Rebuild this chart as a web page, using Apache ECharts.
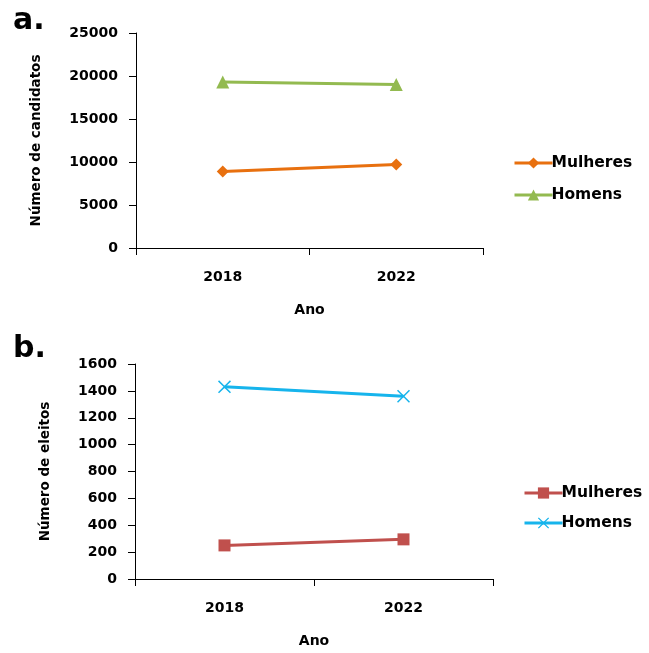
<!DOCTYPE html>
<html>
<head>
<meta charset="utf-8">
<script src="https://cdn.jsdelivr.net/npm/echarts@6/dist/echarts.min.js"></script>
<style>
  html, body { margin: 0; padding: 0; background: #fff; }
  #chart { width: 649px; height: 653px; }
</style>
</head>
<body>
<div id="chart"></div>
<script>
// dados
const anos = ["2018", "2022"];
const candidatosMulheres = [8900, 9700];
const candidatosHomens = [19300, 19000];
const eleitosMulheres = [250, 295];
const eleitosHomens = [1430, 1360];

const chart = echarts.init(document.getElementById("chart"));

const fonte = "DejaVu Sans";
const xSymbol = "path://M0,0.8 L0.8,0 L5,4.2 L9.2,0 L10,0.8 L5.8,5 L10,9.2 L9.2,10 L5,5.8 L0.8,10 L0,9.2 L4.2,5 Z";

// eixos comuns
const eixoX = (gridIndex, nameGap) => ({
  type: "category",
  gridIndex,
  data: anos,
  boundaryGap: true,
  name: "Ano",
  nameLocation: "middle",
  nameGap,
  nameTextStyle: { fontFamily: fonte, fontWeight: "bold", fontSize: 14, color: "#000" },
  axisLine: { lineStyle: { color: "#000", width: 1 } },
  axisTick: { show: true, length: 7, lineStyle: { color: "#000" } },
  axisLabel: { fontFamily: fonte, fontWeight: "bold", fontSize: 14, color: "#000", margin: 22 },
  splitLine: { show: false },
});

const eixoY = (gridIndex, max, interval, name, nameGap) => ({
  type: "value",
  gridIndex,
  min: 0,
  max,
  interval,
  name,
  nameLocation: "middle",
  nameRotate: 90,
  nameGap,
  nameTextStyle: { fontFamily: fonte, fontWeight: "bold", fontSize: 13.5, color: "#000" },
  axisLine: { show: true, lineStyle: { color: "#000", width: 1 } },
  axisTick: { show: true, length: 7, lineStyle: { color: "#000" } },
  axisLabel: {
    fontFamily: fonte, fontWeight: "bold", fontSize: 14, color: "#000", margin: 18,
    formatter: (v) => String(v),
  },
  splitLine: { show: false },
});

const legenda = (top, left, gap, data) => ({
  orient: "vertical",
  left,
  top,
  itemGap: gap,
  itemWidth: 38,
  itemHeight: 14,
  data,
  lineStyle: { width: 3 },
  textStyle: { fontFamily: fonte, fontWeight: "bold", fontSize: 15.5, color: "#000", padding: [0, 0, 0, -6] },
});

const options = {
  animation: false,
  backgroundColor: "#fff",
  title: [
    { text: "a.", left: 8, top: 1, textStyle: { fontFamily: fonte, fontWeight: "bold", fontSize: 30, color: "#000" } },
    { text: "b.", left: 8, top: 329, textStyle: { fontFamily: fonte, fontWeight: "bold", fontSize: 30, color: "#000" } },
  ],
  grid: [
    { left: 136, top: 33, width: 347, height: 215 },
    { left: 135, top: 364, width: 358, height: 215 },
  ],
  xAxis: [eixoX(0, 55), eixoX(1, 55)],
  yAxis: [
    eixoY(0, 25000, 5000, "Número de candidatos", 93),
    eixoY(1, 1600, 200, "Número de eleitos", 83),
  ],
  legend: [
    legenda(150, 508, 16, ["Mulheres", "Homens"]),
    legenda(480, 518, 14, ["Mulheres ", "Homens "]),
  ],
  series: [
    {
      name: "Mulheres",
      type: "line",
      xAxisIndex: 0,
      yAxisIndex: 0,
      data: candidatosMulheres,
      symbol: "diamond",
      symbolSize: 12,
      itemStyle: { color: "#E8700F" },
      lineStyle: { color: "#E8700F", width: 3 },
    },
    {
      name: "Homens",
      type: "line",
      xAxisIndex: 0,
      yAxisIndex: 0,
      data: candidatosHomens,
      symbol: "triangle",
      symbolSize: 13,
      itemStyle: { color: "#93BA50" },
      lineStyle: { color: "#93BA50", width: 3 },
    },
    {
      name: "Mulheres ",
      type: "line",
      xAxisIndex: 1,
      yAxisIndex: 1,
      data: eleitosMulheres,
      symbol: "rect",
      symbolSize: 12,
      itemStyle: { color: "#C0504D" },
      lineStyle: { color: "#C0504D", width: 3 },
    },
    {
      name: "Homens ",
      type: "line",
      xAxisIndex: 1,
      yAxisIndex: 1,
      data: eleitosHomens,
      symbol: xSymbol,
      symbolSize: 13,
      itemStyle: { color: "#16B4EC" },
      lineStyle: { color: "#16B4EC", width: 3 },
    },
  ],
};

chart.setOption(options);
</script>
</body>
</html>
